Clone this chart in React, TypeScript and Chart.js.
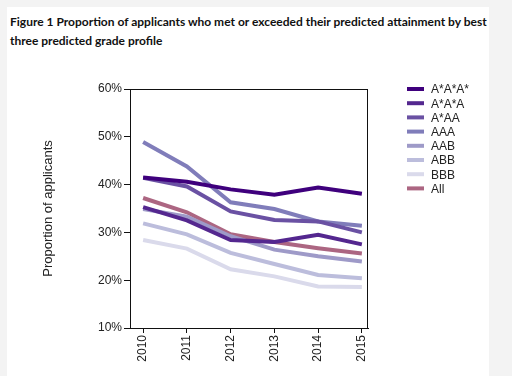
import React, { useEffect, useRef } from "react";
import { Chart, registerables } from "chart.js";
Chart.register(...registerables);

const years = [2010, 2011, 2012, 2013, 2014, 2015];
const yTicks = [10, 20, 30, 40, 50, 60];
const seriesLabels = ["A*A*A*", "A*A*A", "A*AA", "AAA", "AAB", "ABB", "BBB", "All"];
const vA3 = [41.5, 40.6, 39.0, 37.9, 39.4, 38.1];
const vA2A = [35.3, 32.5, 28.4, 28.0, 29.5, 27.5];
const vA1AA = [41.4, 39.6, 34.4, 32.6, 32.3, 30.0];
const vAAA = [48.9, 43.8, 36.3, 34.9, 32.3, 31.4];
const vAAB = [34.9, 33.3, 29.2, 26.4, 25.0, 23.9];
const vABB = [31.9, 29.6, 25.7, 23.4, 21.1, 20.4];
const vBBB = [28.4, 26.6, 22.3, 20.8, 18.7, 18.6];
const vAll = [37.2, 34.2, 29.6, 28.0, 26.7, 25.6];
const seriesValues = [vA3, vA2A, vA1AA, vAAA, vAAB, vABB, vBBB, vAll];
const seriesColors = ["#3f007d", "#54278f", "#6a51a3", "#807dba", "#9e9ac8", "#bcbddc", "#dadaeb", "#ac6682"];

const FONT = "'Liberation Sans', Arial, sans-serif";

const boxPlugin = {
  id: "boxPlugin",
  beforeDatasetsDraw(chart: any) {
    const { ctx, chartArea } = chart;
    ctx.save();
    ctx.strokeStyle = "#111";
    ctx.lineWidth = 1;
    ctx.strokeRect(Math.round(chartArea.left) + 0.5, Math.round(chartArea.top) + 0.5,
      Math.round(chartArea.right - chartArea.left) - 1, Math.round(chartArea.bottom - chartArea.top));
    ctx.restore();
  },
};

const sideLegend = {
  id: "sideLegend",
  afterDraw(chart: any) {
    const ctx = chart.ctx;
    ctx.save();
    ctx.font = "12px " + FONT;
    ctx.textBaseline = "middle";
    ctx.textAlign = "left";
    chart.data.datasets.forEach((ds: any, i: number) => {
      const y = 39 + i * 14.2;
      ctx.strokeStyle = ds.borderColor;
      ctx.lineWidth = 4;
      ctx.beginPath();
      ctx.moveTo(400, y);
      ctx.lineTo(417, y);
      ctx.stroke();
      ctx.fillStyle = "#222";
      ctx.fillText(ds.label, 424, y + 1);
    });
    ctx.restore();
  },
};

function LineChart() {
  const ref = useRef<HTMLCanvasElement>(null);
  useEffect(() => {
    if (!ref.current) return;
    const chart = new Chart(ref.current, {
      type: "line",
      data: {
        datasets: seriesLabels.map((label, i) => ({
          label,
          data: years.map((y, j) => ({ x: y, y: seriesValues[i][j] })),
          borderColor: seriesColors[i],
          backgroundColor: seriesColors[i],
          borderWidth: 4,
          pointRadius: 0,
          tension: 0,
        })),
      },
      options: {
        responsive: false,
        animation: false,
        layout: { padding: { left: 0, top: 39, right: 121, bottom: 0 } },
        plugins: { legend: { display: false }, tooltip: { enabled: false } },
        scales: {
          x: {
            type: "linear",
            min: 2009.7,
            max: 2015.14,
            afterBuildTicks: (s: any) => { s.ticks = years.map((v) => ({ value: v })); },
            afterFit: (s: any) => { s.height = 48; },
            ticks: {
              minRotation: 90,
              maxRotation: 90,
              autoSkip: false,
              padding: 2,
              color: "#222",
              font: { family: FONT, size: 12 },
              callback: (v: any) => String(v),
            },
            grid: { drawOnChartArea: false, tickLength: 5, color: "#111" },
            border: { color: "#111" },
          },
          y: {
            min: 10,
            max: 60,
            afterBuildTicks: (s: any) => { s.ticks = yTicks.map((v) => ({ value: v })); },
            afterFit: (s: any) => { s.width = 123; },
            ticks: {
              padding: 2,
              color: "#222",
              font: { family: FONT, size: 12 },
              callback: (v: any) => v + "%",
            },
            grid: { drawOnChartArea: false, tickLength: 6, color: "#111" },
            border: { color: "#111" },
            title: {
              display: true,
              text: "Proportion of applicants",
              color: "#222",
              font: { family: FONT, size: 13 },
              padding: { top: 34, bottom: 0 },
            },
          },
        },
      },
      plugins: [boxPlugin, sideLegend],
    });
    return () => chart.destroy();
  }, []);
  return <canvas ref={ref} width={482} height={326} style={{ position: "absolute", left: 0, top: 43, width: 482, height: 326 }} />;
}

export default function App() {
  return (
    <div style={{ position: "fixed", left: 0, top: 0, width: 512, height: 376, background: "#f3f3f3", overflow: "hidden" }}>
      <div style={{ position: "absolute", left: 7, top: 7, width: 482, height: 369, background: "#fff" }}>
        <div style={{ position: "absolute", left: 3, top: 5, width: 482, whiteSpace: "normal", fontFamily: "Lato, 'Open Sans', sans-serif", fontWeight: 700, fontSize: 12, lineHeight: "19px", color: "#111" }}>
          Figure 1 Proportion of applicants who met or exceeded their predicted attainment by best three predicted grade profile
        </div>
        <LineChart />
      </div>
    </div>
  );
}
